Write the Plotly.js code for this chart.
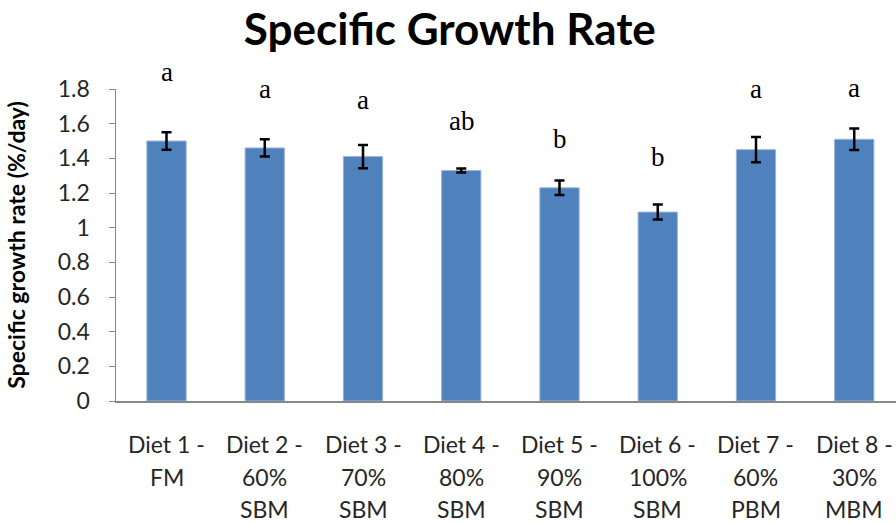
<!DOCTYPE html>
<html>
<head>
<meta charset="utf-8">
<script src="https://cdn.plot.ly/plotly-3.0.1.min.js"></script>
<style>html,body{margin:0;padding:0;background:#fff;}#chart{width:896px;height:523px;}</style>
</head>
<body>
<div id="chart"></div>
<script>
const categories = ['Diet 1 -<br>FM', 'Diet 2 -<br>60%<br>SBM', 'Diet 3 -<br>70%<br>SBM', 'Diet 4 -<br>80%<br>SBM',
                    'Diet 5 -<br>90%<br>SBM', 'Diet 6 -<br>100%<br>SBM', 'Diet 7 -<br>60%<br>PBM', 'Diet 8 -<br>30%<br>MBM'];
const sgr = [1.50, 1.46, 1.41, 1.33, 1.23, 1.09, 1.45, 1.51];
const sgrErr = [0.05, 0.05, 0.067, 0.012, 0.042, 0.043, 0.073, 0.062];
const letters = ['a', 'a', 'a', 'ab', 'b', 'b', 'a', 'a'];
const letterY = [1.900, 1.799, 1.739, 1.614, 1.512, 1.405, 1.799, 1.807];
const yTickVals = [0, 0.2, 0.4, 0.6, 0.8, 1, 1.2, 1.4, 1.6, 1.8];
const yTickText = ['0', '0.2', '0.4', '0.6', '0.8', '1', '1.2', '1.4', '1.6', '1.8'];
const yMax = 1.8;

const idx = categories.map((c, i) => i);

const annotations = [];
letters.forEach((t, i) => {
  annotations.push({
    x: i, y: letterY[i] / yMax, xref: 'x', yref: 'paper', text: t, showarrow: false,
    xanchor: 'center', yanchor: 'middle',
    font: {family: 'Liberation Serif, Times New Roman, serif', size: 27, color: '#000'}
  });
});
categories.forEach((c, i) => {
  c.split('<br>').forEach((line, k) => {
    annotations.push({
      x: i, y: 0, xref: 'x', yref: 'paper', text: line, showarrow: false,
      xanchor: 'center', yanchor: 'middle', yshift: -(43 + 32.5 * k),
      font: {family: 'Lato, Carlito, sans-serif', size: 23, color: '#262626'}
    });
  });
});

const data = [{
  type: 'bar',
  x: idx,
  y: sgr,
  marker: {color: '#4F81BD', line: {color: '#9DB5DA', width: 1}},
  error_y: {type: 'data', array: sgrErr, visible: true, color: '#000', thickness: 2.5, width: 5},
  hoverinfo: 'none'
}];

const layout = {
  width: 896, height: 523,
  margin: {l: 116, r: 0, t: 89, b: 122, pad: 0},
  paper_bgcolor: '#fff', plot_bgcolor: '#fff',
  showlegend: false,
  bargap: 0.6,
  title: {
    text: '<b>Specific Growth Rate</b>',
    x: 0.428, xref: 'paper', xanchor: 'center',
    y: 1 - 30 / 523, yref: 'container', yanchor: 'middle',
    font: {family: 'Lato, Carlito, sans-serif', size: 44, color: '#000'}
  },
  xaxis: {
    type: 'linear',
    range: [-0.514, 7.425],
    showticklabels: false, ticks: '', showgrid: false, zeroline: false,
    showline: true, linecolor: '#888', linewidth: 1.5
  },
  yaxis: {
    range: [0, yMax],
    tickvals: yTickVals, ticktext: yTickText,
    ticks: 'outside', ticklen: 6, tickcolor: '#888', tickwidth: 1,
    showgrid: false, zeroline: false,
    showline: true, linecolor: '#888', linewidth: 1.5,
    ticklabelstandoff: 14,
    tickfont: {family: 'Lato, Carlito, sans-serif', size: 23, color: '#262626'},
    title: {
      text: '<b>Specific growth rate (%/day)</b>',
      standoff: 25,
      font: {family: 'Lato, Carlito, sans-serif', size: 23, color: '#000'}
    }
  },
  annotations: annotations
};

Plotly.newPlot('chart', data, layout, {staticPlot: true, displayModeBar: false});
</script>
</body>
</html>
